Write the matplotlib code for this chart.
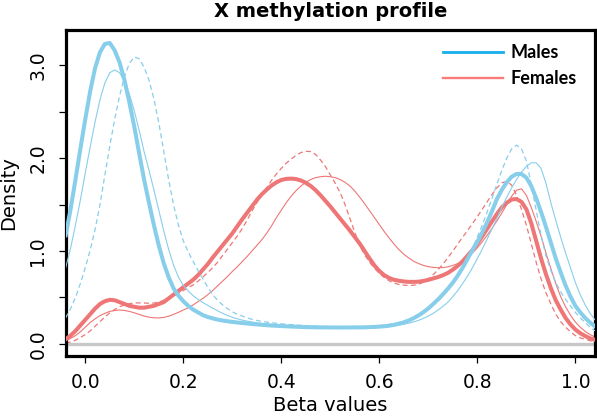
import numpy as np
import matplotlib
matplotlib.use("Agg")
from matplotlib import pyplot as plt
from matplotlib.lines import Line2D

# sampling grid of beta values (x positions of the readings), step 0.01
beta = np.round(np.arange(-0.04, 1.045, 0.01), 2)

# density readings, males (blue)
males_thick = [1.17, 1.45, 1.77, 2.10, 2.42, 2.72, 2.97, 3.14, 3.23, 3.24,
               3.16, 3.03, 2.84, 2.60, 2.34, 2.05, 1.77, 1.52, 1.28, 1.06,
               0.87, 0.72, 0.60, 0.52, 0.46, 0.41, 0.37, 0.34, 0.31, 0.29,
               0.275, 0.262, 0.252, 0.244, 0.237, 0.231, 0.225, 0.22, 0.215, 0.21,
               0.206, 0.202, 0.198, 0.195, 0.192, 0.19, 0.187, 0.185, 0.183, 0.181,
               0.18, 0.179, 0.178, 0.178, 0.177, 0.177, 0.177, 0.177, 0.177, 0.178,
               0.178, 0.179, 0.181, 0.183, 0.186, 0.19, 0.196, 0.205, 0.217, 0.232,
               0.252, 0.277, 0.307, 0.342, 0.383, 0.43, 0.48, 0.535, 0.595, 0.66,
               0.735, 0.82, 0.915, 1.01, 1.10, 1.20, 1.31, 1.43, 1.56, 1.66,
               1.74, 1.80, 1.83, 1.83, 1.79, 1.70, 1.57, 1.42, 1.26, 1.09,
               0.92, 0.77, 0.63, 0.51, 0.41, 0.34, 0.28, 0.23, 0.19]
males_thin = [0.82, 1.03, 1.28, 1.55, 1.84, 2.12, 2.39, 2.63, 2.81, 2.92,
              2.95, 2.92, 2.83, 2.69, 2.51, 2.30, 2.07, 1.87, 1.66, 1.44,
              1.22, 1.02, 0.85, 0.72, 0.63, 0.57, 0.52, 0.48, 0.445, 0.415,
              0.385, 0.357, 0.33, 0.307, 0.287, 0.27, 0.257, 0.246, 0.236, 0.228,
              0.221, 0.215, 0.21, 0.205, 0.201, 0.197, 0.194, 0.191, 0.189, 0.187,
              0.185, 0.183, 0.182, 0.181, 0.18, 0.18, 0.18, 0.18, 0.18, 0.18,
              0.18, 0.18, 0.181, 0.182, 0.184, 0.187, 0.191, 0.196, 0.203, 0.212,
              0.223, 0.237, 0.254, 0.275, 0.30, 0.33, 0.365, 0.405, 0.45, 0.51,
              0.575, 0.65, 0.73, 0.82, 0.92, 1.02, 1.13, 1.24, 1.35, 1.47,
              1.58, 1.68, 1.77, 1.85, 1.91, 1.95, 1.95, 1.89, 1.73, 1.52,
              1.33, 1.15, 0.98, 0.82, 0.66, 0.53, 0.42, 0.33, 0.26]
males_dash = [0.28, 0.38, 0.50, 0.65, 0.82, 1.01, 1.23, 1.50, 1.82, 2.13,
              2.42, 2.67, 2.88, 3.02, 3.09, 3.07, 2.98, 2.84, 2.64, 2.38,
              2.08, 1.77, 1.50, 1.28, 1.11, 0.99, 0.89, 0.79, 0.70, 0.61,
              0.53, 0.47, 0.42, 0.38, 0.345, 0.32, 0.30, 0.28, 0.265, 0.253,
              0.243, 0.235, 0.228, 0.222, 0.217, 0.212, 0.208, 0.204, 0.20, 0.197,
              0.194, 0.191, 0.188, 0.186, 0.184, 0.182, 0.181, 0.18, 0.18, 0.18,
              0.181, 0.183, 0.186, 0.19, 0.195, 0.202, 0.21, 0.22, 0.232, 0.247,
              0.265, 0.287, 0.313, 0.344, 0.38, 0.42, 0.465, 0.52, 0.58, 0.65,
              0.73, 0.82, 0.92, 1.03, 1.15, 1.28, 1.42, 1.57, 1.72, 1.87,
              2.00, 2.10, 2.14, 2.10, 1.97, 1.72, 1.44, 1.17, 0.95, 0.79,
              0.66, 0.56, 0.48, 0.41, 0.34, 0.28, 0.23, 0.18, 0.14]

# density readings, females (red)
females_thick = [0.05, 0.09, 0.14, 0.20, 0.26, 0.32, 0.38, 0.43, 0.46, 0.475,
                 0.47, 0.45, 0.43, 0.41, 0.40, 0.39, 0.39, 0.40, 0.41, 0.43,
                 0.45, 0.49, 0.53, 0.57, 0.61, 0.65, 0.69, 0.74, 0.80, 0.86,
                 0.93, 0.995, 1.06, 1.125, 1.19, 1.265, 1.34, 1.41, 1.48, 1.55,
                 1.61, 1.66, 1.705, 1.74, 1.765, 1.777, 1.78, 1.775, 1.76, 1.735,
                 1.70, 1.655, 1.60, 1.54, 1.48, 1.415, 1.35, 1.285, 1.22, 1.15,
                 1.08, 1.00, 0.92, 0.845, 0.785, 0.74, 0.71, 0.69, 0.68, 0.672,
                 0.668, 0.668, 0.67, 0.678, 0.69, 0.705, 0.72, 0.74, 0.765, 0.80,
                 0.84, 0.89, 0.95, 1.01, 1.08, 1.16, 1.24, 1.32, 1.40, 1.47,
                 1.52, 1.555, 1.56, 1.53, 1.45, 1.30, 1.11, 0.92, 0.75, 0.60,
                 0.47, 0.37, 0.28, 0.21, 0.155, 0.115, 0.085, 0.06, 0.045]
females_thin = [0.03, 0.06, 0.09, 0.13, 0.18, 0.23, 0.27, 0.305, 0.33, 0.35,
                0.36, 0.365, 0.36, 0.35, 0.335, 0.318, 0.30, 0.288, 0.281, 0.28,
                0.285, 0.298, 0.318, 0.34, 0.365, 0.39, 0.42, 0.455, 0.49, 0.53,
                0.575, 0.625, 0.675, 0.725, 0.78, 0.83, 0.885, 0.94, 1.00, 1.06,
                1.12, 1.19, 1.27, 1.36, 1.44, 1.52, 1.59, 1.65, 1.70, 1.74,
                1.77, 1.79, 1.80, 1.805, 1.80, 1.79, 1.77, 1.74, 1.70, 1.645,
                1.58, 1.51, 1.435, 1.36, 1.285, 1.21, 1.14, 1.075, 1.015, 0.965,
                0.925, 0.89, 0.865, 0.845, 0.832, 0.824, 0.82, 0.822, 0.83, 0.845,
                0.865, 0.895, 0.935, 0.98, 1.035, 1.10, 1.17, 1.245, 1.325, 1.41,
                1.50, 1.59, 1.655, 1.67, 1.60, 1.47, 1.32, 1.16, 0.98, 0.81,
                0.65, 0.51, 0.40, 0.31, 0.235, 0.18, 0.135, 0.10, 0.075]
females_dash = [0.01, 0.02, 0.04, 0.07, 0.10, 0.14, 0.19, 0.24, 0.29, 0.335,
                0.37, 0.40, 0.42, 0.433, 0.44, 0.442, 0.44, 0.438, 0.44, 0.45,
                0.468, 0.49, 0.515, 0.545, 0.575, 0.605, 0.635, 0.675, 0.72, 0.77,
                0.82, 0.88, 0.95, 1.02, 1.09, 1.16, 1.24, 1.33, 1.43, 1.52,
                1.60, 1.68, 1.76, 1.83, 1.89, 1.945, 1.99, 2.03, 2.06, 2.075,
                2.07, 2.04, 1.98, 1.91, 1.82, 1.73, 1.63, 1.50, 1.35, 1.20,
                1.06, 0.96, 0.88, 0.815, 0.76, 0.715, 0.68, 0.655, 0.64, 0.632,
                0.63, 0.632, 0.642, 0.665, 0.70, 0.745, 0.80, 0.86, 0.93, 1.00,
                1.075, 1.15, 1.22, 1.295, 1.37, 1.45, 1.53, 1.61, 1.68, 1.735,
                1.75, 1.71, 1.60, 1.45, 1.28, 1.08, 0.88, 0.70, 0.55, 0.43,
                0.32, 0.24, 0.18, 0.13, 0.09, 0.065, 0.05, 0.035, 0.02]

groups = ["Males", "Females"]
ytick_vals = [0, 0.5, 1, 1.5, 2, 2.5, 3]
ytick_labels = ["0.0", "", "1.0", "", "2.0", "", "3.0"]
xtick_vals = [0, 0.2, 0.4, 0.6, 0.8, 1.0]
xtick_labels = ["0.0", "0.2", "0.4", "0.6", "0.8", "1.0"]

blue = "#87CEEB"
red = "#EF7676"

fig = plt.figure(figsize=(5.97, 4.17), dpi=100)
ax = fig.add_axes([0.110, 0.1463, 0.8866, 0.7818])

ax.axhline(0, color="#C8C8C8", lw=2.4, zorder=1)

dash = (4, 2.6)
ax.plot(beta, females_thin, color=red, lw=0.8, zorder=2)
ax.plot(beta, females_dash, color=red, lw=0.9, dashes=dash, zorder=2)
ax.plot(beta, females_thick, color=red, lw=2.9, zorder=3)
ax.plot(beta, males_thin, color=blue, lw=0.8, zorder=4)
ax.plot(beta, males_dash, color=blue, lw=0.9, dashes=dash, zorder=4)
ax.plot(beta, males_thick, color=blue, lw=2.9, zorder=5)

ax.set_xlim(-0.04, 1.04)
ax.set_ylim(-0.13, 3.38)

for s in ax.spines.values():
    s.set_linewidth(2.3)

ax.set_xticks(xtick_vals)
ax.set_xticklabels(xtick_labels, fontsize=13.5)
ax.set_yticks(ytick_vals)
ax.set_yticklabels(ytick_labels, fontsize=13.5, rotation=90, va="center")
ax.tick_params(axis="both", length=5.2, width=0.9, direction="out")
ax.tick_params(axis="x", pad=7)
ax.tick_params(axis="y", pad=8)

ax.set_title("X methylation profile", fontsize=14, fontweight="bold", pad=9.5)
fig.text(330 / 597, 1 - 411 / 417, "Beta values", fontsize=14, ha="center", va="baseline")
fig.text(9 / 597, 1 - 193 / 417, "Density", fontsize=14, ha="center", va="center", rotation=90)

handles = [Line2D([], [], color="#17AEEC", lw=2.0),
           Line2D([], [], color="#FA7A7A", lw=1.7)]
ax.legend(handles, groups, loc="upper left", bbox_to_anchor=(443 / 597, 1 - 44 / 417),
          bbox_transform=fig.transFigure, frameon=False, borderpad=0,
          borderaxespad=0, handlelength=3.3, handletextpad=0.45, labelspacing=0.5,
          prop={"family": "Lato", "weight": "bold", "size": 13})

fig.savefig("out.png", dpi=100)
